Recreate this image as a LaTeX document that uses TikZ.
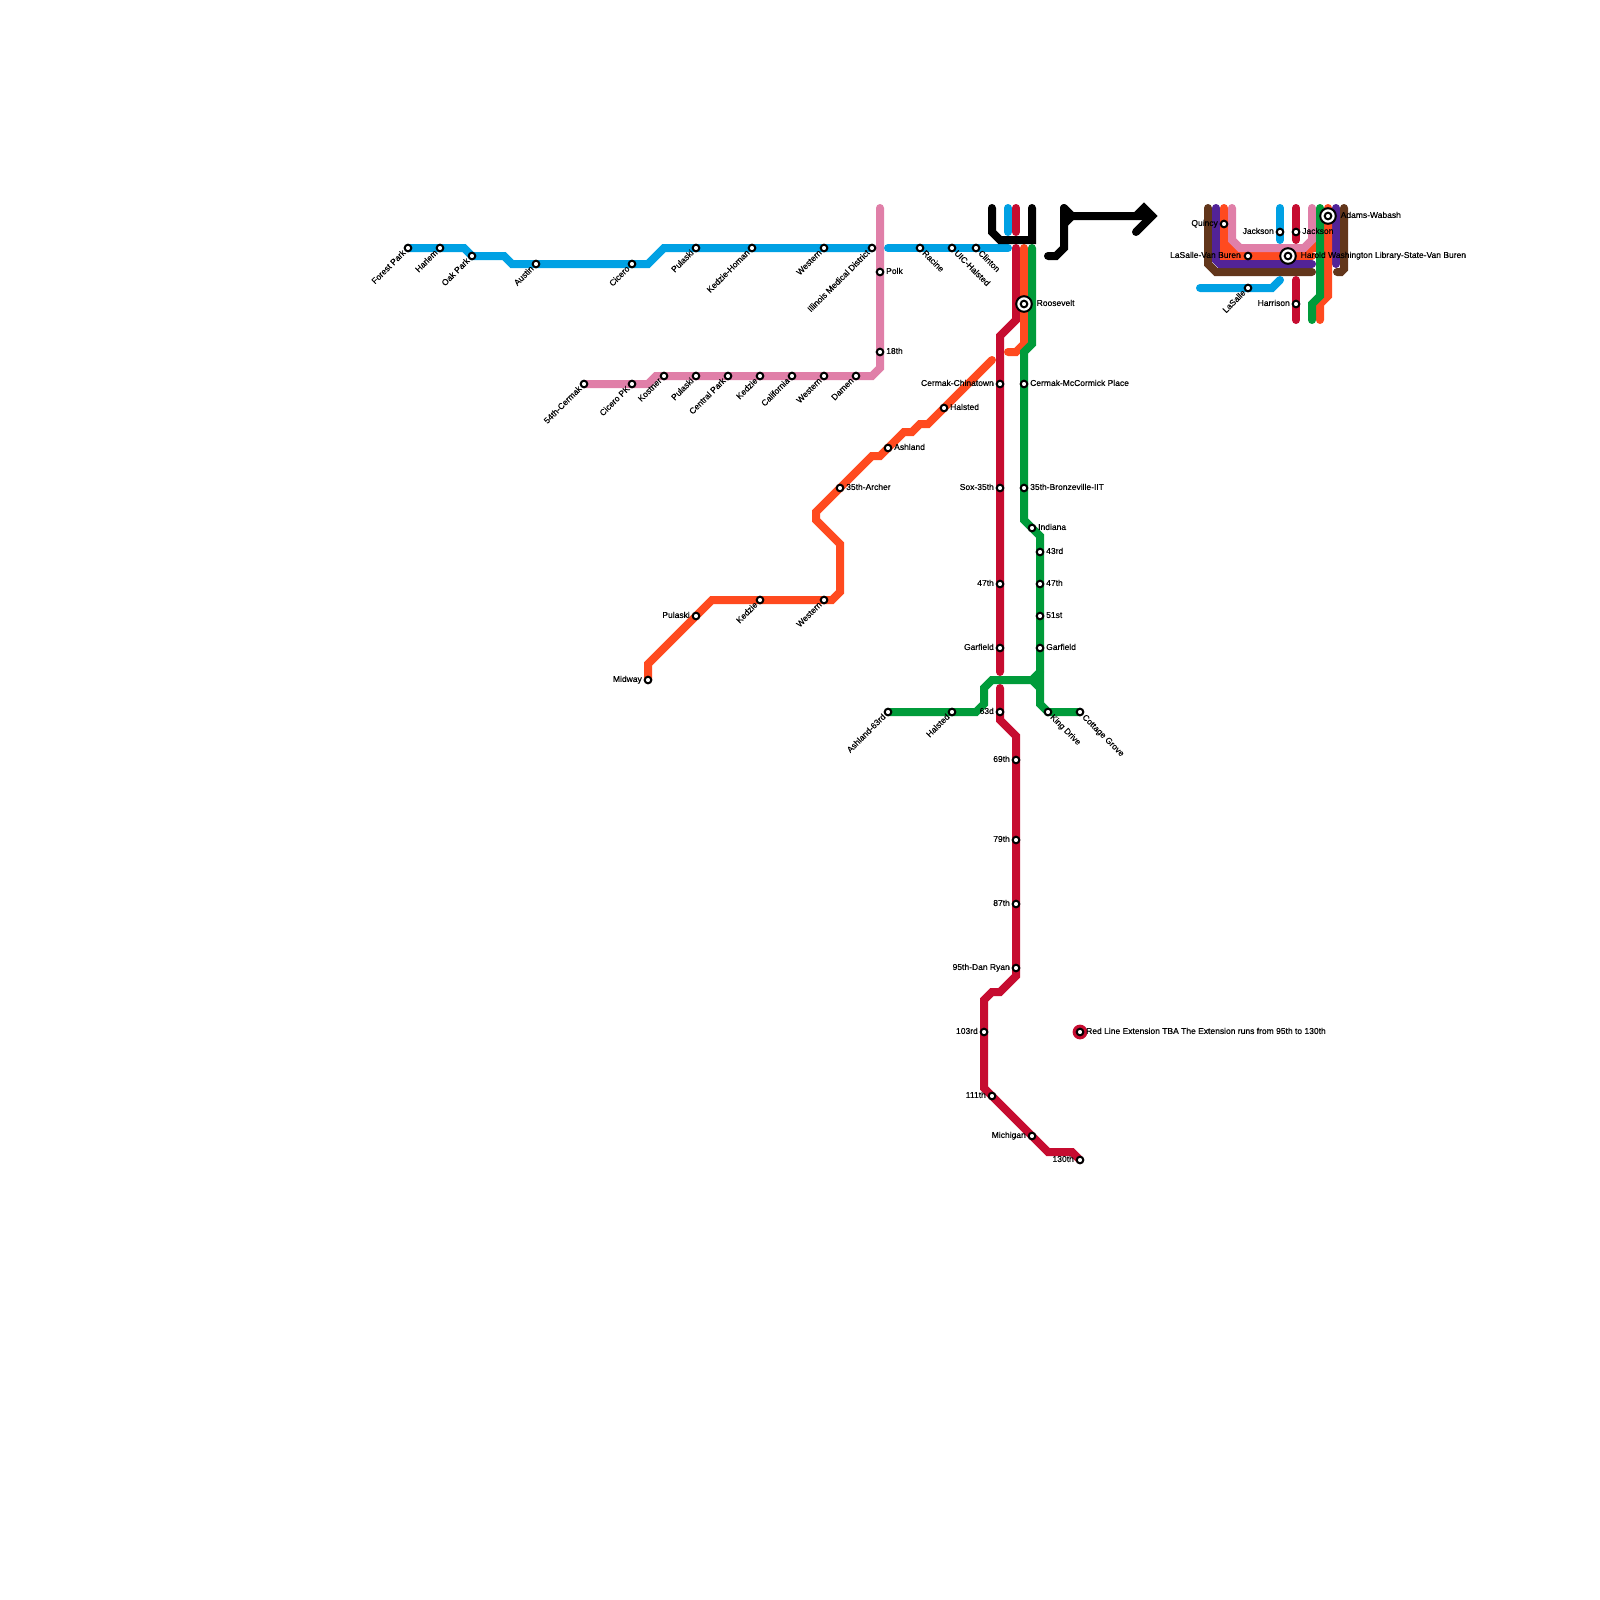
\documentclass[tikz,border=0pt]{standalone}
\usepackage{fontspec}
\setmainfont{Liberation Sans}[FakeBold=0.25]
\pgfdeclarelayer{bg}
\pgfsetlayers{bg,main}
\definecolor{cblue}{HTML}{00A1E4}
\definecolor{cpink}{HTML}{E07FA8}
\definecolor{cred}{HTML}{C60C30}
\definecolor{corange}{HTML}{FF4A1F}
\definecolor{cgreen}{HTML}{009B3A}
\definecolor{cbrown}{HTML}{62361B}
\definecolor{cpurple}{HTML}{522398}
\tikzset{
  ln/.style={line width=8pt,line cap=round,line join=miter,miter limit=4},
  bl/.style={ln,draw=cblue}, pk/.style={ln,draw=cpink}, rd/.style={ln,draw=cred},
  og/.style={ln,draw=corange}, gn/.style={ln,draw=cgreen}, bw/.style={ln,draw=cbrown},
  pu/.style={ln,draw=cpurple}, bk/.style={ln,draw=black},
  station/.style={circle,draw=black,fill=white,line width=2pt,minimum size=6.6pt,inner sep=0pt},
  transfer/.style={circle,draw=black,fill=white,line width=2pt,minimum size=15.6pt,inner sep=0pt},
  extmark/.style={circle,fill=cred,minimum size=14.8pt,inner sep=0pt},
  lab/.style={inner sep=0pt,font=\fontsize{8.5pt}{9pt}\selectfont,text=black}
}
\newcommand\stn[3]{\node[station] (#1) at (#2,#3) {};}
\newcommand\xfr[3]{\node[transfer] (#1) at (#2,#3) {};\node[station] (#1i) at (#1.center) {};}
\newcommand\LR[3][6pt]{\node[lab,anchor=mid west] (l#2) at ([shift={(#1,0.7pt)}]#2.center) {#3};}
\newcommand\LL[3][-6pt]{\node[lab,anchor=mid east] (l#2) at ([shift={(#1,0.7pt)}]#2.center) {#3};}
\newcommand\DL[2]{\node[lab,anchor=mid east,rotate=45] (l#1) at ([shift={(-3.6pt,-3.4pt)}]#1.center) {#2};}
\newcommand\DR[2]{\node[lab,anchor=mid west,rotate=-45] (l#1) at ([shift={(3.6pt,-3.8pt)}]#1.center) {#2};}
\begin{document}
\begin{tikzpicture}[x=1pt,y=-1pt]
\useasboundingbox (0,0) rectangle (1600,1600);
% Blue line
\stn{forest}{408}{248}\DL{forest}{Forest Park}
\stn{harlem}{440}{248}\DL{harlem}{Harlem}
\stn{oak}{472}{256}\DL{oak}{Oak Park}
\stn{austin}{536}{264}\DL{austin}{Austin}
\stn{cicero}{632}{264}\DL{cicero}{Cicero}
\stn{pulb}{696}{248}\DL{pulb}{Pulaski}
\stn{kedzh}{752}{248}\DL{kedzh}{Kedzie-Homan}
\stn{westb}{824}{248}\DL{westb}{Western}
\stn{imd}{872}{248}\DL{imd}{Illinois Medical District}
\stn{racine}{920}{248}\DR{racine}{Racine}
\stn{uic}{952}{248}\DR{uic}{UIC-Halsted}
\stn{clinton}{976}{248}\DR{clinton}{Clinton}
% Pink line
\stn{p54}{584}{384}\DL{p54}{54th-Cermak}
\stn{pcic}{632}{384}\DL{pcic}{Cicero PK}
\stn{kostner}{664}{376}\DL{kostner}{Kostner}
\stn{ppul}{696}{376}\DL{ppul}{Pulaski}
\stn{central}{728}{376}\DL{central}{Central Park}
\stn{pked}{760}{376}\DL{pked}{Kedzie}
\stn{calif}{792}{376}\DL{calif}{California}
\stn{pwest}{824}{376}\DL{pwest}{Western}
\stn{damen}{856}{376}\DL{damen}{Damen}
\stn{polk}{880}{272}\LR{polk}{Polk}
\stn{p18}{880}{352}\LR{p18}{18th}
% Orange line
\stn{midway}{648}{680}\LL{midway}{Midway}
\stn{opul}{696}{616}\LL{opul}{Pulaski}
\stn{oked}{760}{600}\DL{oked}{Kedzie}
\stn{owest}{824}{600}\DL{owest}{Western}
\stn{archer}{840}{488}\LR{archer}{35th-Archer}
\stn{ashland}{888}{448}\LR{ashland}{Ashland}
\stn{ohal}{944}{408}\LR{ohal}{Halsted}
% Red line
\stn{chinat}{1000}{384}\LL{chinat}{Cermak-Chinatown}
\stn{sox}{1000}{488}\LL{sox}{Sox-35th}
\stn{r47}{1000}{584}\LL{r47}{47th}
\stn{rgar}{1000}{648}\LL{rgar}{Garfield}
\stn{r63}{1000}{712}\LL{r63}{63d}
\stn{r69}{1016}{760}\LL{r69}{69th}
\stn{r79}{1016}{840}\LL{r79}{79th}
\stn{r87}{1016}{904}\LL{r87}{87th}
\stn{r95}{1016}{968}\LL{r95}{95th-Dan Ryan}
\stn{r103}{984}{1032}\LL{r103}{103rd}
\stn{r111}{992}{1096}\LL{r111}{111th}
\stn{michigan}{1032}{1136}\LL{michigan}{Michigan}
\stn{r130}{1080}{1160}\LL{r130}{130th}
\node[extmark] (extm) at (1080,1032) {};
\node[station] (ext) at (extm.center) {};
\LR{ext}{Red Line Extension TBA The Extension runs from 95th to 130th}
% Green line
\xfr{roos}{1024}{304}\LR[12.5pt]{roos}{Roosevelt}
\stn{mccorm}{1024}{384}\LR{mccorm}{Cermak-McCormick Place}
\stn{bronz}{1024}{488}\LR{bronz}{35th-Bronzeville-IIT}
\stn{indiana}{1032}{528}\LR{indiana}{Indiana}
\stn{g43}{1040}{552}\LR{g43}{43rd}
\stn{g47}{1040}{584}\LR{g47}{47th}
\stn{g51}{1040}{616}\LR{g51}{51st}
\stn{ggar}{1040}{648}\LR{ggar}{Garfield}
\stn{king}{1048}{712}\DR{king}{King Drive}
\stn{cottage}{1080}{712}\DR{cottage}{Cottage Grove}
\stn{ash63}{888}{712}\DL{ash63}{Ashland-63rd}
\stn{ghal}{952}{712}\DL{ghal}{Halsted}
% Loop
\stn{quincy}{1224}{224}\LL{quincy}{Quincy}
\stn{jackb}{1280}{232}\LL{jackb}{Jackson}
\stn{jackr}{1296}{232}\LR{jackr}{Jackson}
\stn{lsvb}{1248}{256}\LL[-7pt]{lsvb}{LaSalle-Van Buren}
\xfr{hw}{1288}{256}\LR[12.5pt]{hw}{Harold Washington Library-State-Van Buren}
\xfr{adams}{1328}{216}\LR[12.5pt]{adams}{Adams-Wabash}
\stn{lasalle}{1248}{288}\DL{lasalle}{LaSalle}
\stn{harrison}{1296}{304}\LL{harrison}{Harrison}
\begin{pgfonlayer}{bg}
\fill[white] (0,0) rectangle (1600,1600);
% Loop, brown and purple first
\draw[bw] (1208,208) -- (1208,264) -- (1216,272) -- (1312,272);
\draw[bw] (1344,208) -- (1344,269) -- (1341,272) -- (1337,272);
\draw[pu] (1216,208) -- (1216,260) -- (1220,264) -- (1312,264);
\draw[pu] (1336,208) -- (1336,264);
\draw[og] (1224,208) -- (quincy.center) -- (1224,256) -- (lsvb.center) -- (hw.center) -- (1312,256);
\fill[corange] (1228,240) -- (1240,252) -- (1228,252) -- cycle;
\fill[corange] (1316,240) -- (1304,252) -- (1316,252) -- cycle;
\draw[pk] (1232,208) -- (1232,240) -- (1240,248) -- (1304,248) -- (1312,240) -- (1312,208);
\draw[bl] (1280,208) -- (jackb.center) -- (1280,240);
\draw[rd] (1296,208) -- (jackr.center) -- (1296,240);
\draw[rd] (1296,280) -- (harrison.center) -- (1296,320);
\draw[bl] (1200,288) -- (lasalle.center) -- (1272,288) -- (1280,280);
\draw[og] (1328,208) -- (adams.center) -- (1328,296) -- (1320,304) -- (1320,320);
\draw[gn] (1320,208) -- (1320,296) -- (1312,304) -- (1312,320);
% Blue
\draw[bl] (forest.center) -- (harlem.center) -- (464,248) -- (oak.center) -- (504,256) -- (512,264) -- (austin.center) -- (cicero.center) -- (648,264) -- (664,248) -- (pulb.center) -- (kedzh.center) -- (westb.center) -- (imd.center);
\draw[bl] (888,248) -- (racine.center) -- (uic.center) -- (clinton.center) -- (1008,248);
\draw[bl] (1008,208) -- (1008,232);
% Pink
\draw[pk] (p54.center) -- (pcic.center) -- (648,384) -- (656,376) -- (kostner.center) -- (ppul.center) -- (central.center) -- (pked.center) -- (calif.center) -- (pwest.center) -- (damen.center) -- (872,376) -- (880,368) -- (p18.center) -- (polk.center) -- (880,208);
% Orange
\draw[og] (midway.center) -- (648,664) -- (opul.center) -- (712,600) -- (oked.center) -- (owest.center) -- (832,600) -- (840,592) -- (840,544) -- (816,520) -- (816,512) -- (archer.center) -- (872,456) -- (880,456) -- (ashland.center) -- (904,432) -- (912,432) -- (920,424) -- (928,424) -- (ohal.center) -- (992,360);
% Red
\draw[rd] (1016,208) -- (1016,232);
\draw[rd] (1016,248) -- (1016,320) -- (1000,336) -- (chinat.center) -- (sox.center) -- (r47.center) -- (rgar.center) -- (1000,672);
\draw[rd] (1000,688) -- (r63.center) -- (1000,720) -- (1016,736) -- (r69.center) -- (r79.center) -- (r87.center) -- (r95.center) -- (1016,976) -- (1000,992) -- (992,992) -- (984,1000) -- (r103.center) -- (984,1088) -- (r111.center) -- (michigan.center) -- (1048,1152) -- (1072,1152) -- (r130.center);
% Orange north, green
\draw[og] (1024,248) -- (roos.center) -- (1024,344) -- (1016,352) -- (1008,352);
\draw[gn] (1032,248) -- (1032,344) -- (1024,352) -- (mccorm.center) -- (bronz.center) -- (1024,520) -- (indiana.center) -- (1040,536) -- (g43.center) -- (g47.center) -- (g51.center) -- (ggar.center) -- (1040,704) -- (king.center) -- (cottage.center);
\draw[gn] (1040,672) -- (1032,680) -- (992,680) -- (984,688) -- (984,704) -- (976,712) -- (ghal.center) -- (ash63.center);
\draw[gn,line cap=butt] (1032,680) -- (1040,688);
% Black
\draw[bk] (992,208) -- (992,232) -- (1000,240) -- (1032,240) -- (1032,208);
\draw[bk] (1064,208) -- (1072,216) -- (1152,216);
\draw[bk] (1136,216) -- (1144,208) -- (1152,216) -- (1136,232);
\draw[bk] (1072,216) -- (1064,224);
\draw[bk] (1064,208) -- (1064,248) -- (1056,256) -- (1048,256);
\end{pgfonlayer}
\end{tikzpicture}
\end{document}
